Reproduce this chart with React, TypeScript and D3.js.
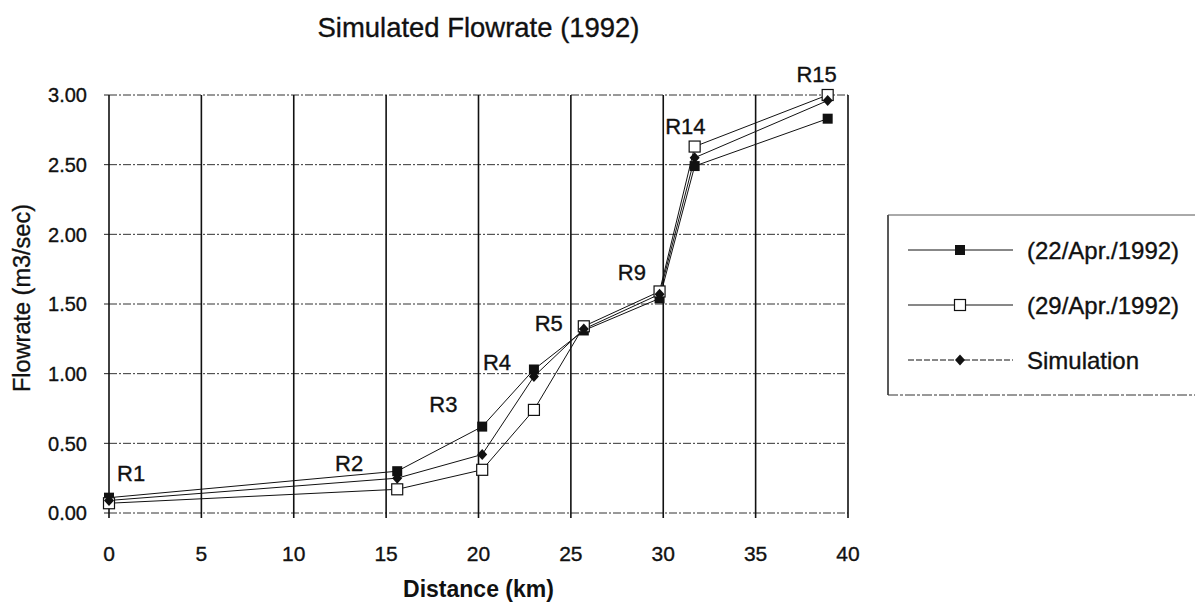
import React from "react";
import * as d3 from "d3";

const distance = [0, 15.6, 20.2, 23.0, 25.7, 29.8, 31.7, 38.9];
const apr22 = [0.11, 0.30, 0.62, 1.03, 1.31, 1.54, 2.49, 2.83];
const apr29 = [0.07, 0.17, 0.31, 0.74, 1.34, 1.59, 2.63, 3.00];
const simulation = [0.09, 0.25, 0.42, 0.98, 1.32, 1.57, 2.55, 2.96];
const seriesNames = ["(22/Apr./1992)", "(29/Apr./1992)", "Simulation"];
const xTicks = [0, 5, 10, 15, 20, 25, 30, 35, 40];
const yTicks = [0, 0.5, 1.0, 1.5, 2.0, 2.5, 3.0];
const reachLabels = ["R1", "R2", "R3", "R4", "R5", "R9", "R14", "R15"];
const reachLabelX = [1.2, 13.0, 18.1, 21.0, 23.8, 28.3, 31.2, 38.3];
const reachLabelY = [0.29, 0.36, 0.78, 1.08, 1.36, 1.73, 2.78, 3.15];

const W = 1195, H = 609;
const L = 109, R = 848, T = 95, B = 513;

function Marker({ kind, x, y }: { kind: number; x: number; y: number }) {
  if (kind === 0) return <rect x={x - 5} y={y - 5} width={10} height={10} fill="#111" />;
  if (kind === 1) return <rect x={x - 5.5} y={y - 5.5} width={11} height={11} fill="#fff" stroke="#111" strokeWidth={1.2} />;
  return <path d={`M${x},${y - 5.5}L${x + 5},${y}L${x},${y + 5.5}L${x - 5},${y}Z`} fill="#111" />;
}

export default function App() {
  const x = d3.scaleLinear().domain([0, 40]).range([L, R]);
  const y = d3.scaleLinear().domain([0, 3]).range([B, T]);
  const series = [apr22, apr29, simulation];
  const line = d3.line<[number, number]>().x((d) => x(d[0])).y((d) => y(d[1]));
  const font = "'Liberation Sans', Arial, sans-serif";
  const heavy = { stroke: "#111", strokeWidth: 0.35 };

  return (
    <svg width={W} height={H} style={{ position: "absolute", left: 0, top: 0, background: "#fff" }} fontFamily={font}>
      <rect width={W} height={H} fill="#fff" />
      <text x={(L + R) / 2} y={37} textAnchor="middle" fontSize={28} textLength={322} lengthAdjust="spacingAndGlyphs" fill="#111" {...heavy}>
        Simulated Flowrate (1992)
      </text>
      {yTicks.map((t) => (
        <g key={"y" + t}>
          <line x1={L} x2={R} y1={y(t)} y2={y(t)} stroke="#333" strokeWidth={1} strokeDasharray="8,2,2,2" />
          <line x1={L - 5} x2={L} y1={y(t)} y2={y(t)} stroke="#222" />
          <text x={L - 22} y={y(t)} dy="0.36em" textAnchor="end" fontSize={20} fill="#111" {...heavy}>
            {d3.format(".2f")(t)}
          </text>
        </g>
      ))}
      {xTicks.map((t) => (
        <g key={"x" + t}>
          <line x1={x(t)} x2={x(t)} y1={T} y2={B + 5} stroke="#111" strokeWidth={1.6} />
          <text x={x(t)} y={561} textAnchor="middle" fontSize={21} fill="#111" {...heavy}>
            {t}
          </text>
        </g>
      ))}
      <text x={(L + R) / 2} y={597} textAnchor="middle" fontSize={23} fontWeight="bold" fill="#111">
        Distance (km)
      </text>
      <text transform={`translate(30,298) rotate(-90)`} textAnchor="middle" fontSize={23.5} fill="#111" {...heavy}>
        Flowrate (m3/sec)
      </text>
      {series.map((s, i) => (
        <path key={"l" + i} d={line(distance.map((dd, j) => [dd, s[j]]) as [number, number][]) || ""} fill="none" stroke="#111" strokeWidth={1} />
      ))}
      {series.map((s, i) => (
        <g key={"m" + i}>
          {distance.map((dd, j) => (
            <Marker key={j} kind={i} x={x(dd)} y={y(s[j])} />
          ))}
        </g>
      ))}
      {reachLabels.map((lab, i) => (
        <text key={lab} x={x(reachLabelX[i])} y={y(reachLabelY[i])} dy="0.36em" textAnchor="middle" fontSize={22} fill="#111" {...heavy}>
          {lab}
        </text>
      ))}
      <g>
        <line x1={888} x2={888} y1={215} y2={395} stroke="#222" strokeWidth={1.5} />
        <line x1={888} x2={W} y1={215} y2={215} stroke="#555" strokeWidth={1} />
        <line x1={888} x2={W} y1={395} y2={395} stroke="#333" strokeWidth={1} strokeDasharray="10,2,3,2" />
        {seriesNames.map((n, i) => {
          const ly = 250 + i * 55;
          return (
            <g key={n}>
              <line x1={908} x2={1013} y1={ly} y2={ly} stroke="#111" strokeWidth={1} strokeDasharray={i === 2 ? "6,2" : "none"} />
              <Marker kind={i} x={960} y={ly} />
              <text x={1027} y={ly} dy="0.36em" fontSize={24} fill="#111" {...heavy}>
                {n}
              </text>
            </g>
          );
        })}
      </g>
    </svg>
  );
}
